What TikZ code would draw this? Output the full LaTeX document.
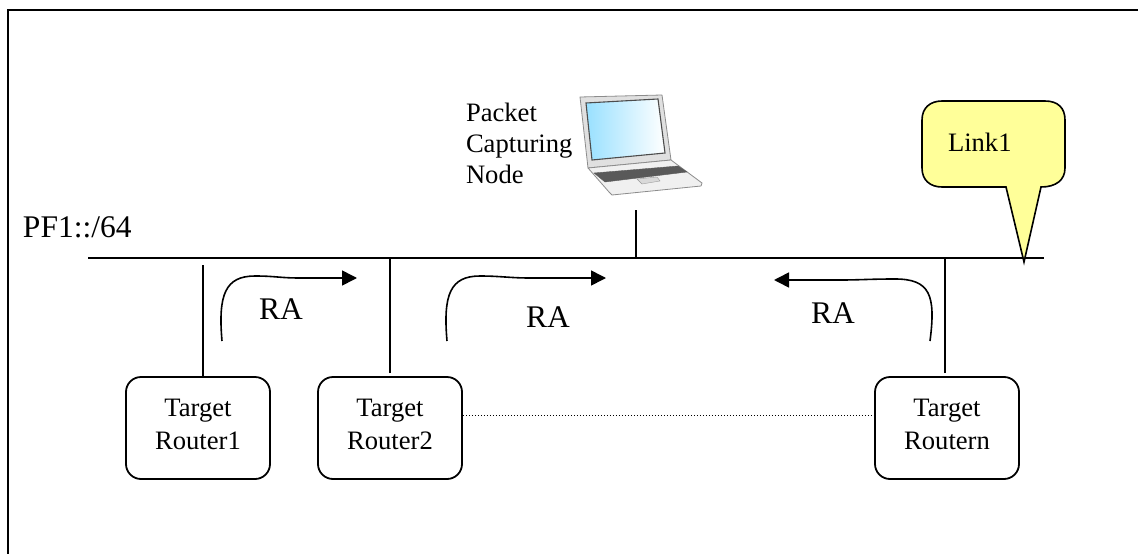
\documentclass[tikz,border=0pt]{standalone}
\usepackage{fontspec}
\setmainfont{Liberation Serif}
\usetikzlibrary{arrows.meta}
\begin{document}
\begin{tikzpicture}[x=1pt,y=-1pt,line width=2pt,
  router/.style={draw,line width=1.8pt,rounded corners=15pt,minimum width=144pt,minimum height=102pt,inner sep=0pt,align=center,text depth=8pt,font=\fontsize{26.6}{33}\selectfont},
  biglabel/.style={inner sep=0pt,font=\fontsize{31.5}{36}\selectfont},
  smalllabel/.style={inner sep=0pt,align=left,font=\fontsize{26.6}{31}\selectfont},
  flow/.style={-{Triangle[length=15pt,width=15pt]},line width=1.6pt},
  laptop/.style={draw=black!45,line width=0.8pt,line join=round}]
\useasboundingbox (0,0) rectangle (1138,554);
\draw (8,554) -- (8,9.5) -- (1138,9.5);
\coordinate (busw) at (88,257.5);
\coordinate (buse) at (1044,257.5);
\draw (busw) -- (buse);
\node [router] (routera) at (198,428) {Target\\Router1};
\node [router] (routerb) at (390,428) {Target\\Router2};
\node [router] (routern) at (947,428) {Target\\Routern};
\draw (routera.north -| 203,0) -- (203,265);
\draw (390,373) -- (390,259);
\draw (945,373) -- (945,259);
\draw (635.5,210) -- (635.5,257.5);
\draw [dotted,line width=1pt] (routerb.east |- 0,415) -- (routern.west |- 0,415);
\draw [flow] (222,341) .. controls (218,295) and (225,276) .. (255,276) .. controls (275,276) and (280,278) .. (300,278) -- (357,278);
\draw [flow] (447,341) .. controls (443,295) and (450,276) .. (480,276) .. controls (500,276) and (510,278) .. (530,278) -- (606,278);
\draw [flow] (930,341) .. controls (936,295) and (930,279) .. (895,279) .. controls (870,279) and (860,280) .. (840,280) -- (774,280);
\node [biglabel] (raa) at (281,309) {RA};
\node [biglabel] (rab) at (548,317) {RA};
\node [biglabel] (ran) at (833,313) {RA};
\node [biglabel,anchor=west] (prefix) at (22,227) {PF1::/64};
\node [smalllabel,anchor=west] (capture) at (465,143) {Packet\\Capturing\\Node};
\draw [line width=1.6pt,fill={rgb,255:red,255;green,255;blue,153}]
  (942,101) -- (1045,101) .. controls (1058,101) and (1065,108) .. (1065,120) -- (1065,168)
  .. controls (1065,180) and (1056,187) .. (1041,187) -- (1024,262) -- (1006,187) -- (942,187)
  .. controls (930,187) and (922,180) .. (922,168) -- (922,120) .. controls (922,108) and (930,101) .. (942,101) -- cycle;
\node [smalllabel,anchor=west] (link) at (947,142) {Link1};
\draw [laptop,fill=black!12] (580,97) -- (662,95) -- (671,160) -- (588,168) -- cycle;
\shade [left color=blue!30!cyan!40!white,right color=white,draw=black!70,line width=1.1pt] (586,103) -- (658,99) -- (665,153) -- (592,160) -- cycle;
\draw [laptop,fill=black!6] (588,168) -- (671,160) -- (702,183) -- (701,186) -- (612,195) -- (609,192) -- cycle;
\draw [black!65,fill=black!65,line width=0.4pt] (594,173) -- (678,166) -- (687,172) -- (605,182) -- cycle;
\draw [black!40,fill=black!15,line width=0.4pt] (637,179) -- (657,177) -- (660,181) -- (642,184) -- cycle;
\end{tikzpicture}
\end{document}
